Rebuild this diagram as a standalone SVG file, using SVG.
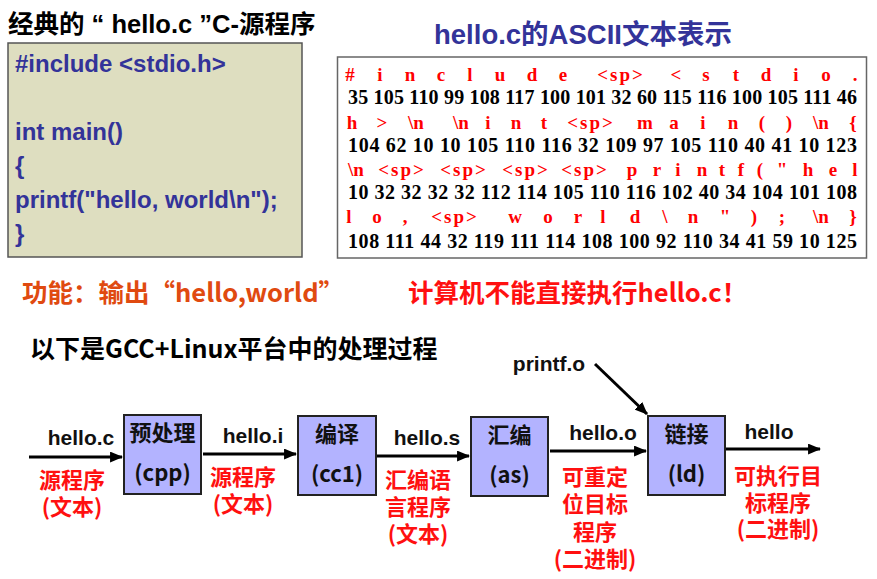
<svg xmlns="http://www.w3.org/2000/svg" width="877" height="579" viewBox="0 0 877 579">
<defs>
<style>
.lat{font-family:"Liberation Sans","Noto Sans CJK SC",sans-serif;font-weight:bold}
.cjk{font-family:"Noto Sans CJK SC","Liberation Sans",sans-serif;font-weight:bold}
.code{font-family:"Liberation Sans",sans-serif;font-weight:bold;font-size:24px;fill:#333399}
.num{font-family:"Liberation Serif",serif;font-weight:bold;font-size:20px;fill:#000}
.chr{font-family:"Liberation Serif",serif;font-weight:bold;font-size:19px;fill:#ff0000;text-anchor:middle}
.sp{letter-spacing:2px}
.box{fill:#b3b3ff;stroke:#222;stroke-width:2}
.btxt{font-family:"Noto Sans CJK SC","Liberation Sans",sans-serif;font-weight:bold;font-size:22px;fill:#111;text-anchor:middle}
.flab{font-family:"Liberation Sans",sans-serif;font-weight:bold;font-size:21px;fill:#111;text-anchor:middle}
.rlab{font-family:"Noto Sans CJK SC",sans-serif;font-weight:bold;font-size:22px;fill:#ff1010;text-anchor:middle}
.arr{stroke:#000;stroke-width:3;fill:none;marker-end:url(#ah)}
</style>
<marker id="ah" viewBox="0 0 12 10" refX="11" refY="5" markerUnits="userSpaceOnUse" markerWidth="13" markerHeight="11" orient="auto">
<path d="M0,0 L12,5 L0,10 z" fill="#000"/>
</marker>
</defs>
<rect width="877" height="579" fill="#fff"/>

<g id="title">
<text class="lat" x="8" y="33" font-size="25.5" fill="#000">经典的 “ hello.c ”C-源程序</text>
</g>

<g id="code-box">
<rect x="8" y="43" width="294" height="214" fill="#dedec0" stroke="#555" stroke-width="1.5"/>
<text class="code" x="15" y="72">#include &lt;stdio.h&gt;</text>
<text class="code" x="15" y="140">int main()</text>
<text class="code" x="15" y="174">{</text>
<text class="code" x="15" y="208">printf("hello, world\n");</text>
<text class="code" x="15" y="242">}</text>
</g>

<g id="ascii-title">
<text class="lat" x="583" y="44" font-size="27.5" fill="#333399" text-anchor="middle">hello.c的ASCII文本表示</text>
</g>

<g id="ascii-box">
<rect x="337.5" y="57" width="529" height="201" fill="#fff" stroke="#666" stroke-width="1.5"/>
<text class="chr" y="81"><tspan x="350">#</tspan><tspan x="380">i</tspan><tspan x="410">n</tspan><tspan x="441">c</tspan><tspan x="470">l</tspan><tspan x="500">u</tspan><tspan x="532">d</tspan><tspan x="563">e</tspan><tspan x="621" class="sp">&lt;sp&gt;</tspan><tspan x="676">&lt;</tspan><tspan x="706">s</tspan><tspan x="736">t</tspan><tspan x="766">d</tspan><tspan x="796">i</tspan><tspan x="826">o</tspan><tspan x="855">.</tspan></text>
<text class="num" x="348" y="104" textLength="509" lengthAdjust="spacing">35 105 110 99 108 117 100 101 32 60 115 116 100 105 111 46</text>
<text class="chr" y="129"><tspan x="352">h</tspan><tspan x="382">&gt;</tspan><tspan x="416">\n</tspan><tspan x="461">\n</tspan><tspan x="488">i</tspan><tspan x="516">n</tspan><tspan x="544">t</tspan><tspan x="591" class="sp">&lt;sp&gt;</tspan><tspan x="645">m</tspan><tspan x="674">a</tspan><tspan x="703">i</tspan><tspan x="733">n</tspan><tspan x="762">(</tspan><tspan x="789">)</tspan><tspan x="821">\n</tspan><tspan x="853">{</tspan></text>
<text class="num" x="348" y="152" textLength="509" lengthAdjust="spacing">104 62 10 10 105 110 116 32 109 97 105 110 40 41 10 123</text>
<text class="chr" y="176"><tspan x="356">\n</tspan><tspan x="402" class="sp">&lt;sp&gt;</tspan><tspan x="464" class="sp">&lt;sp&gt;</tspan><tspan x="526" class="sp">&lt;sp&gt;</tspan><tspan x="585" class="sp">&lt;sp&gt;</tspan><tspan x="632">p</tspan><tspan x="657">r</tspan><tspan x="678">i</tspan><tspan x="702">n</tspan><tspan x="722">t</tspan><tspan x="741">f</tspan><tspan x="760">(</tspan><tspan x="782">"</tspan><tspan x="808">h</tspan><tspan x="833">e</tspan><tspan x="855">l</tspan></text>
<text class="num" x="348" y="199" textLength="509" lengthAdjust="spacing">10 32 32 32 32 112 114 105 110 116 102 40 34 104 101 108</text>
<text class="chr" y="223"><tspan x="349">l</tspan><tspan x="377">o</tspan><tspan x="405">,</tspan><tspan x="455" class="sp">&lt;sp&gt;</tspan><tspan x="515">w</tspan><tspan x="548">o</tspan><tspan x="578">r</tspan><tspan x="603">l</tspan><tspan x="635">d</tspan><tspan x="665">\</tspan><tspan x="693">n</tspan><tspan x="725">"</tspan><tspan x="754">)</tspan><tspan x="782">;</tspan><tspan x="821">\n</tspan><tspan x="853">}</tspan></text>
<text class="num" x="348" y="248" textLength="509" lengthAdjust="spacing">108 111 44 32 119 111 114 108 100 92 110 34 41 59 10 125</text>
</g>

<g id="notes">
<text class="cjk" x="22" y="302" font-size="25.5" fill="#e04a10">功能：输出“hello,world”</text>
<text class="cjk" x="408" y="302" font-size="25.5" fill="#ff1010">计算机不能直接执行hello.c！</text>
<text class="cjk" x="30" y="358" font-size="25" fill="#000">以下是GCC+Linux平台中的处理过程</text>
</g>

<g id="connectors">
<line class="arr" x1="29" y1="457" x2="122" y2="457"/>
<line class="arr" x1="203" y1="454" x2="296" y2="454"/>
<line class="arr" x1="377" y1="456" x2="469" y2="456"/>
<line class="arr" x1="550" y1="451" x2="646" y2="451"/>
<line class="arr" x1="726" y1="449" x2="820" y2="449"/>
<line class="arr" x1="595" y1="364" x2="647" y2="414"/>
</g>

<g id="labels">
<text class="flab" x="81" y="445">hello.c</text>
<text class="flab" x="253" y="443">hello.i</text>
<text class="flab" x="427" y="445">hello.s</text>
<text class="flab" x="603" y="440">hello.o</text>
<text class="flab" x="769" y="439">hello</text>
<text class="flab" x="549" y="371">printf.o</text>
<text class="rlab" x="72"><tspan x="72" y="488">源程序</tspan><tspan x="72" y="515">(文本)</tspan></text>
<text class="rlab" x="243"><tspan x="243" y="485">源程序</tspan><tspan x="243" y="512">(文本)</tspan></text>
<text class="rlab" x="418"><tspan x="418" y="488">汇编语</tspan><tspan x="418" y="515">言程序</tspan><tspan x="418" y="542">(文本)</tspan></text>
<text class="rlab" x="595"><tspan x="595" y="485">可重定</tspan><tspan x="595" y="512">位目标</tspan><tspan x="595" y="540">程序</tspan><tspan x="595" y="567">(二进制)</tspan></text>
<text class="rlab" x="778"><tspan x="778" y="484">可执行目</tspan><tspan x="778" y="511">标程序</tspan><tspan x="778" y="537">(二进制)</tspan></text>
</g>

<g id="node-cpp">
<rect class="box" x="124" y="415" width="77" height="79"/>
<text class="btxt" x="162.5" y="441">预处理</text>
<text class="btxt" x="162.5" y="481">(cpp)</text>
</g>
<g id="node-cc1">
<rect class="box" x="298" y="416" width="78" height="79"/>
<text class="btxt" x="337" y="442">编译</text>
<text class="btxt" x="337" y="482">(cc1)</text>
</g>
<g id="node-as">
<rect class="box" x="471" y="417" width="77" height="79"/>
<text class="btxt" x="509.5" y="443">汇编</text>
<text class="btxt" x="509.5" y="483">(as)</text>
</g>
<g id="node-ld">
<rect class="box" x="648" y="416" width="77" height="79"/>
<text class="btxt" x="686.5" y="442">链接</text>
<text class="btxt" x="686.5" y="482">(ld)</text>
</g>
</svg>
